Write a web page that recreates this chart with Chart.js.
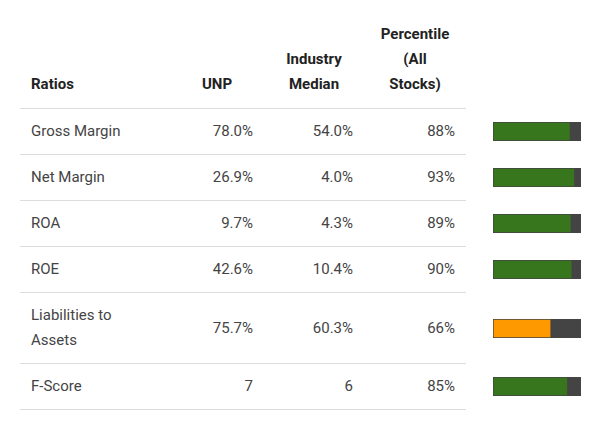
<!DOCTYPE html>
<html><head><meta charset="utf-8">
<script src="https://cdn.jsdelivr.net/npm/chart.js@4"></script>
<style>
body{margin:0;background:#fff;font-family:Roboto,"Noto Sans",sans-serif;color:#444;}
table{position:absolute;left:20px;top:12px;border-collapse:collapse;}
td,th{font-size:15px;line-height:25px;padding:10px 11px;border-bottom:1px solid #ddd;}
th{font-weight:bold;font-size:15px;color:#222;vertical-align:bottom;padding-bottom:11px;}
td.bar,th.bar{border-bottom:none;padding:0 0 0 27px;vertical-align:middle;}
.c1{width:128px;text-align:left;}
.c2{width:72px;}
.c3{width:78px;}
.c4{width:80px;}
td.c2,td.c3,td.c4{text-align:right;}
th.c2,th.c3,th.c4{text-align:center;}
canvas{display:block;}
</style></head><body>
<table id="t"><thead><tr>
<th class="c1" id="h0"></th><th class="c2" id="h1"></th><th class="c3" id="h2"></th><th class="c4" id="h3"></th><th class="bar"></th>
</tr></thead><tbody id="tb"></tbody></table>
<script>
const headers=["Ratios","UNP","Industry<br>Median","Percentile<br>(All<br>Stocks)"];
const ratios=["Gross Margin","Net Margin","ROA","ROE","Liabilities to<br>Assets","F-Score"];
const unp=["78.0%","26.9%","9.7%","42.6%","75.7%","7"];
const industry=["54.0%","4.0%","4.3%","10.4%","60.3%","6"];
const percentile=[88,93,89,90,66,85];
const barColors=["#38761d","#38761d","#38761d","#38761d","#ff9900","#38761d"];
headers.forEach((h,i)=>document.getElementById('h'+i).innerHTML=h);
const tb=document.getElementById('tb');
ratios.forEach((r,i)=>{
  const tr=document.createElement('tr');
  tr.innerHTML=`<td class="c1">${r}</td><td class="c2">${unp[i]}</td><td class="c3">${industry[i]}</td><td class="c4">${percentile[i]}%</td><td class="bar"><div style="width:88px;height:19px"><canvas id="b${i}"></canvas></div></td>`;
  tb.appendChild(tr);
});
percentile.forEach((p,i)=>{
  new Chart(document.getElementById('b'+i),{type:'bar',
    data:{labels:[ratios[i]],datasets:[
      {data:[p],backgroundColor:barColors[i],borderColor:'#444',borderWidth:1,borderSkipped:false,barPercentage:1,categoryPercentage:1},
      {data:[100],backgroundColor:'#444',barPercentage:1,categoryPercentage:1}
    ]},
    options:{indexAxis:'y',responsive:true,maintainAspectRatio:false,animation:false,
      layout:{padding:0},
      plugins:{legend:{display:false},tooltip:{enabled:false}},
      scales:{x:{display:false,min:0,max:100,stacked:false},y:{display:false,stacked:true}}}});
});
</script></body></html>
